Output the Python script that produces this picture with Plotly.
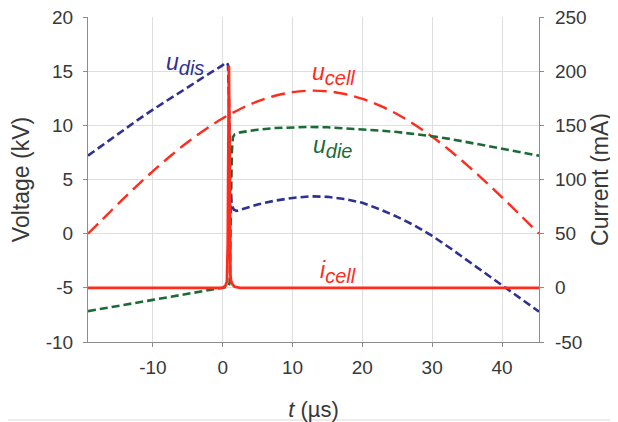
import plotly.graph_objects as go

# ---- data ----
t_cell = [-19.3, -17.5, -15, -12.5, -10, -7.5, -5, -2.5, 0, 2.5, 5, 7.5, 10, 12.5, 15,
          17.5, 20, 22.5, 25, 27.5, 30, 32.5, 35, 37.5, 40, 42.5, 45.3]
u_cell = [0.0, 1.15, 2.74, 4.29, 5.77, 7.17, 8.46, 9.62, 10.65, 11.51, 12.21, 12.73, 13.06,
          13.2, 13.14, 12.89, 12.45, 11.82, 11.03, 10.06, 8.94, 7.7, 6.33, 4.88, 3.35, 1.79, 0.0]

t_dis = [-19.3, -17.5, -15, -12.5, -10, -7.5, -5, -2.5, 0, 0.3, 0.55, 0.75, 0.9, 1.0, 1.1,
         1.3, 1.6, 2.0, 3, 5, 7.5, 10, 12.5, 15, 17.5, 20, 22.5, 25, 27.5, 30, 32.5, 35,
         37.5, 40, 42.5, 45.3]
u_dis = [7.2, 8.05, 9.2, 10.35, 11.45, 12.5, 13.5, 14.55, 15.55, 15.75, 15.8, 15.6, 12.0,
         7.0, 4.0, 2.6, 2.2, 2.1, 2.3, 2.7, 3.05, 3.3, 3.45, 3.4, 3.2, 2.85, 2.25, 1.55,
         0.75, -0.2, -1.3, -2.45, -3.6, -4.75, -5.95, -7.2]

t_die = [-19.3, -15, -10, -5, 0, 0.8, 1.0, 1.15, 1.3, 1.45, 1.7, 2.5, 5, 7.5, 10, 12.5,
         15, 17.5, 20, 22.5, 25, 27.5, 30, 32.5, 35, 37.5, 40, 42.5, 45.3]
u_die = [-7.15, -6.64, -6.11, -5.55, -5.0, -4.9, -4.5, 1.0, 7.5, 8.9, 9.15, 9.35, 9.6,
         9.75, 9.82, 9.85, 9.82, 9.74, 9.64, 9.52, 9.38, 9.2, 9.0, 8.75, 8.45, 8.15,
         7.85, 7.55, 7.2]

t_i = [-19.3, 0, 0.4, 0.6, 0.72, 0.8, 0.88, 0.95, 1.02, 1.1, 1.2, 1.4, 1.7, 2.5, 45.3]
i_cell = [0, 0, 2, 6, 40, 150, 205, 150, 40, 12, 6, 3, 1, 0, 0]

x_ticks = [-10, 0, 10, 20, 30, 40]
x_labels = ['-10', '0', '10', '20', '30', '40']
yv_ticks = [-10, -5, 0, 5, 10, 15, 20]
yv_labels = ['-10', '-5', '0', '5', '10', '15', '20']
yi_ticks = [-50, 0, 50, 100, 150, 200, 250]
yi_labels = ['-50', '0', '50', '100', '150', '200', '250']

NAVY = '#2E3192'
GREEN = '#1B6B37'
RED = '#FF2B1C'
FONT = 'Liberation Sans, Arial, sans-serif'
TXT = '#383838'

fig = go.Figure()
fig.add_trace(go.Scatter(x=t_cell, y=u_cell, mode='lines', line=dict(color=RED, width=2.4, dash='14px,7px', shape='spline'), yaxis='y'))
fig.add_trace(go.Scatter(x=t_die, y=u_die, mode='lines', line=dict(color=GREEN, width=2.6, dash='8px,4px'), yaxis='y'))
fig.add_trace(go.Scatter(x=t_dis, y=u_dis, mode='lines', line=dict(color=NAVY, width=2.6, dash='8px,4px'), yaxis='y'))
fig.add_trace(go.Scatter(x=t_i, y=i_cell, mode='lines', line=dict(color=RED, width=2.8), yaxis='y2'))

axcol = '#8c8c8c'
grid = '#dedede'
tickfont = dict(family=FONT, size=19, color=TXT)
common = dict(showline=True, linecolor=axcol, linewidth=1.2, ticks='outside', ticklen=4, tickcolor=axcol,
              zeroline=False, automargin=False, tickfont=tickfont, ticklabeloverflow='allow')

# page has an 8px body margin, so the figure is 8px smaller than the window
fig.update_layout(
    width=610, height=414,
    margin=dict(l=80, r=79, t=9, b=80),
    paper_bgcolor='white', plot_bgcolor='white',
    showlegend=False,
    font=dict(family=FONT, color=TXT),
    xaxis=dict(range=[-19.3, 45.3], tickvals=x_ticks, ticktext=x_labels, showgrid=True, gridcolor=grid,
               ticklabelstandoff=4,
               title=dict(text='<i>t</i> (µs)', font=dict(family=FONT, size=22, color=TXT), standoff=26), **common),
    yaxis=dict(range=[-10, 20], tickvals=yv_ticks, ticktext=yv_labels, showgrid=True, gridcolor=grid,
               ticklabelstandoff=6,
               title=dict(text='Voltage (kV)', font=dict(family=FONT, size=23, color=TXT), standoff=21), **common),
    yaxis2=dict(range=[-50, 250], tickvals=yi_ticks, ticktext=yi_labels, overlaying='y', side='right', showgrid=False,
                ticklabelstandoff=7,
                title=dict(text='Current (mA)', font=dict(family=FONT, size=23, color=TXT), standoff=6), **common),
)

def lab(x, y, main, sub, color):
    fig.add_annotation(x=x, y=y, xref='x', yref='y', showarrow=False,
                       text=f'<i>{main}<sub><span style="font-size:20px">{sub}</span></sub></i>',
                       font=dict(family=FONT, size=23, color=color))

lab(-5.45, 15.7, 'u', 'dis', NAVY)
lab(15.9, 14.7, 'u', 'cell', RED)
lab(15.8, 8.0, 'u', 'die', GREEN)
lab(16.5, -3.55, 'i', 'cell', RED)

fig.add_shape(type='line', xref='paper', yref='paper', x0=-0.195, x1=1.175, y0=-0.24, y1=-0.24,
              line=dict(color='#e6e6e6', width=1.5))

fig.write_html('out.html')
